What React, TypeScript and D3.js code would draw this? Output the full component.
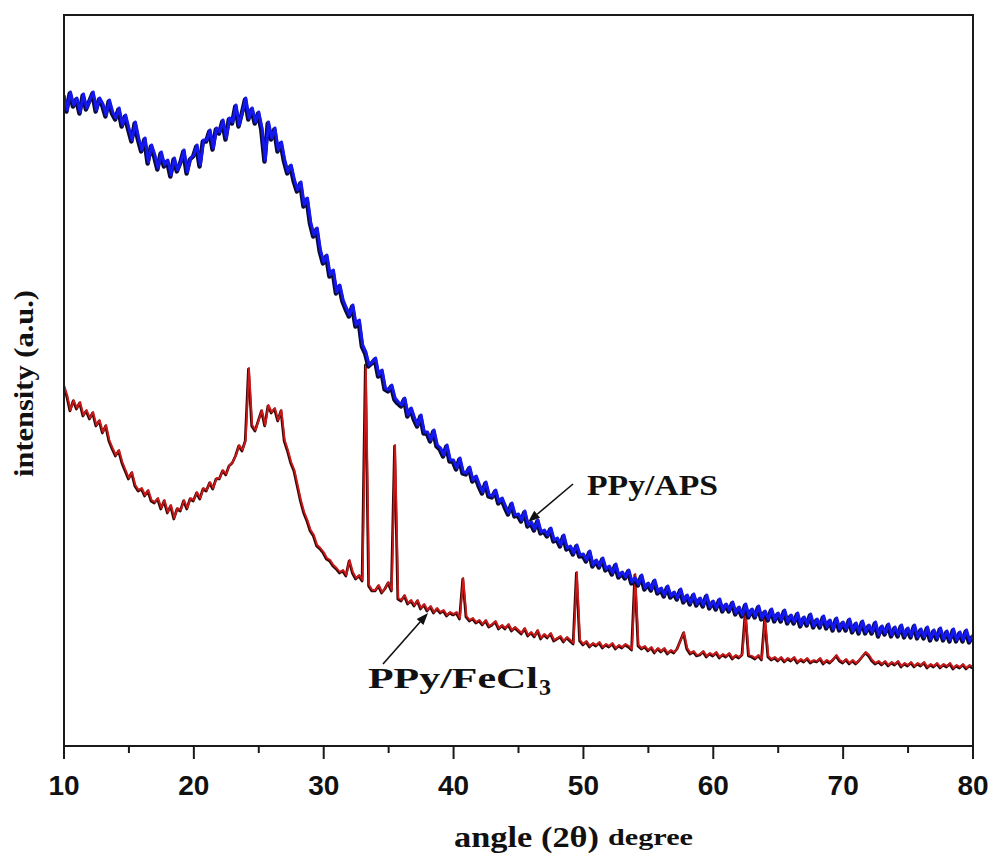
import React from "react";
import * as d3 from "d3";

// 2θ grid, 0.25° steps from 10 to 80
const angles: number[] = d3.range(0, 281).map((i) => 10 + i * 0.25);

const xMajorTicks = [10, 20, 30, 40, 50, 60, 70, 80];
const xMinorTicks = [15, 25, 35, 45, 55, 65, 75];

// intensity (a.u.) of PPy/APS, one row per degree (x.00, x.25, x.50, x.75)
const ppyAps = [
  651, 636, 654, 641,
  648, 634, 652, 638,
  646, 654, 636, 648,
  642, 631, 646, 634,
  628, 638, 621, 631,
  618, 606, 624, 608,
  596, 608, 584, 601,
  591, 578, 594, 581,
  586, 571, 588, 576,
  584, 596, 574, 588,
  591, 601, 581, 606,
  606, 616, 598, 618,
  614, 626, 608, 628,
  624, 641, 621, 634,
  648, 628, 638, 624,
  634, 618, 586, 624,
  608, 618, 596, 604,
  586, 574, 581, 566,
  556, 564, 541, 548,
  524, 511, 518, 496,
  484, 491, 471, 476,
  454, 461, 446, 438,
  431, 441, 421, 426,
  401, 394, 381, 384,
  388, 371, 376, 358,
  356, 361, 348, 344,
  341, 348, 331, 338,
  328, 321, 331, 314,
  314, 306, 316, 301,
  298, 291, 301, 286,
  286, 278, 288, 274,
  273, 279, 266, 270,
  261, 254, 264, 251,
  250, 256, 244, 248,
  240, 233, 243, 231,
  232, 226, 235, 221,
  224, 217, 226, 214,
  216, 211, 218, 206,
  208, 201, 211, 198,
  200, 193, 201, 191,
  192, 186, 195, 181,
  186, 180, 188, 177,
  180, 173, 182, 170,
  174, 169, 176, 164,
  168, 162, 171, 158,
  163, 157, 166, 154,
  158, 151, 160, 150,
  154, 148, 157, 145,
  151, 143, 152, 142,
  148, 141, 151, 139,
  145, 138, 147, 136,
  142, 136, 144, 133,
  139, 131, 142, 130,
  137, 130, 140, 128,
  135, 127, 137, 126,
  133, 126, 136, 124,
  131, 124, 133, 121,
  129, 122, 132, 120,
  127, 120, 130, 119,
  126, 117, 128, 117,
  124, 117, 127, 115,
  123, 114, 125, 114,
  121, 114, 124, 111,
  120, 113, 122, 111,
  119, 111, 121, 110,
  118, 110, 121, 109,
  117, 109, 119, 107,
  116, 108, 118, 107,
  115, 106, 117, 106,
  114, 106, 116, 105,
  111,
];

// intensity (a.u.) of PPy/FeCl3
const ppyFeCl3 = [
  361, 351, 336, 346,
  338, 344, 331, 336,
  328, 334, 321, 326,
  314, 321, 306, 298,
  291, 296, 284, 276,
  268, 274, 261, 256,
  258, 251, 256, 246,
  244, 248, 238, 246,
  234, 241, 228, 238,
  236, 246, 238, 248,
  246, 254, 248, 258,
  256, 264, 258, 268,
  268, 276, 272, 281,
  284, 291, 301, 296,
  306, 378, 321, 316,
  326, 336, 321, 341,
  334, 338, 326, 336,
  306, 296, 284, 276,
  261, 246, 234, 226,
  216, 211, 201, 198,
  194, 188, 186, 181,
  178, 174, 176, 171,
  186, 174, 168, 171,
  166, 382, 161, 156,
  156, 161, 154, 158,
  164, 156, 301, 148,
  146, 151, 143, 146,
  141, 146, 138, 142,
  136, 140, 134, 138,
  134, 136, 131, 134,
  132, 134, 128, 168,
  130, 126, 128, 124,
  126, 122, 126, 120,
  122, 125, 118, 121,
  118, 122, 116, 119,
  116, 113, 118, 111,
  114, 110, 116, 108,
  112, 109, 113, 106,
  108, 110, 105, 109,
  106, 103, 174, 106,
  102, 105, 100, 103,
  101, 104, 99, 102,
  100, 103, 98, 101,
  99, 102, 100, 97,
  172, 101, 98, 100,
  96, 99, 94, 98,
  95, 98, 93, 96,
  94, 98, 106, 114,
  98, 93, 95, 91,
  92, 95, 90, 93,
  91, 94, 89, 92,
  90, 93, 88, 91,
  89, 92, 134, 91,
  90, 88, 91, 87,
  128, 90, 87, 89,
  86, 89, 85, 88,
  86, 89, 84, 87,
  85, 88, 84, 86,
  85, 88, 83, 86,
  84, 87, 91, 86,
  84, 87, 83, 86,
  83, 86, 90, 94,
  91, 86, 83, 85,
  82, 85, 81, 84,
  82, 85, 80, 83,
  81, 84, 80, 83,
  81, 84, 79, 82,
  80, 83, 79, 82,
  80, 83, 78, 81,
  79, 82, 78, 81,
  79,
];

const W = 990;
const H = 857;
const left = 64;
const right = 973;
const top = 15;
const bottom = 746;

export default function App() {
  const x = d3.scaleLinear().domain([10, 80]).range([left, right]);
  const y = d3.scaleLinear().domain([0, 731]).range([bottom, top]);

  const line = d3
    .line<number>()
    .x((_, i) => x(angles[i]))
    .y((d) => y(d));

  const apsPath = line(ppyAps) || "";
  const fePath = line(ppyFeCl3) || "";

  const arrow = (x1: number, y1: number, x2: number, y2: number) => {
    const a = Math.atan2(y2 - y1, x2 - x1);
    const len = 12;
    const w = 4.5;
    const bx = x2 - len * Math.cos(a);
    const by = y2 - len * Math.sin(a);
    const px = -Math.sin(a) * w;
    const py = Math.cos(a) * w;
    return (
      <g>
        <line x1={x1} y1={y1} x2={bx} y2={by} stroke="#111" strokeWidth={1.6} />
        <polygon
          points={`${x2},${y2} ${bx + px},${by + py} ${bx - px},${by - py}`}
          fill="#111"
        />
      </g>
    );
  };

  const serif = "'Liberation Serif', 'Times New Roman', serif";
  const sans = "'Liberation Sans', Arial, sans-serif";

  return (
    <svg
      width={W}
      height={H}
      style={{ position: "absolute", left: 0, top: 0, background: "#fff" }}
    >
      <rect x={0} y={0} width={W} height={H} fill="#fff" />
      <defs>
        <clipPath id="plotClip">
          <rect x={left} y={top} width={right - left} height={bottom - top} />
        </clipPath>
      </defs>

      <g clipPath="url(#plotClip)">
        {/* PPy/FeCl3 */}
        <path
          d={fePath}
          fill="none"
          stroke="#3a0606"
          strokeWidth={2.7}
          strokeLinejoin="round"
          transform="translate(-0.6,1)"
        />
        <path d={fePath} fill="none" stroke="#cc1a1a" strokeWidth={1.8} strokeLinejoin="round" />
        {/* PPy/APS */}
        <path
          d={apsPath}
          fill="none"
          stroke="#0a0a35"
          strokeWidth={4.4}
          strokeLinejoin="round"
          transform="translate(-0.8,1.5)"
        />
        <path d={apsPath} fill="none" stroke="#1418ee" strokeWidth={3.0} strokeLinejoin="round" />
      </g>

      {/* frame */}
      <rect
        x={left}
        y={top}
        width={right - left}
        height={bottom - top}
        fill="none"
        stroke="#1a1a1a"
        strokeWidth={2}
      />

      {/* x ticks */}
      {xMajorTicks.map((t) => (
        <g key={"M" + t}>
          <line x1={x(t)} x2={x(t)} y1={bottom} y2={bottom + 13} stroke="#1a1a1a" strokeWidth={2} />
          <text
            x={x(t)}
            y={795}
            textAnchor="middle"
            fontFamily={sans}
            fontWeight="bold"
            fontSize={28}
            fill="#111"
          >
            {t}
          </text>
        </g>
      ))}
      {xMinorTicks.map((t) => (
        <line key={"m" + t} x1={x(t)} x2={x(t)} y1={bottom} y2={bottom + 7} stroke="#1a1a1a" strokeWidth={2} />
      ))}

      {/* axis titles */}
      <text
        x={454}
        y={847}
        fontFamily={serif}
        fontWeight="bold"
        fontSize={29}
        textLength={145}
        lengthAdjust="spacingAndGlyphs"
        fill="#111"
      >
        angle (2θ)
      </text>
      <text
        x={608}
        y={845}
        fontFamily={serif}
        fontWeight="bold"
        fontSize={23}
        textLength={85}
        lengthAdjust="spacingAndGlyphs"
        fill="#111"
      >
        degree
      </text>
      <text
        transform="translate(33,383.5) rotate(-90)"
        textAnchor="middle"
        fontFamily={serif}
        fontWeight="bold"
        fontSize={28}
        textLength={187}
        lengthAdjust="spacingAndGlyphs"
        fill="#111"
      >
        intensity (a.u.)
      </text>

      {/* annotations */}
      {arrow(573, 484, 528, 522)}
      <text
        x={587}
        y={495}
        fontFamily={serif}
        fontWeight="bold"
        fontSize={30}
        textLength={131}
        lengthAdjust="spacingAndGlyphs"
        fill="#111"
      >
        PPy/APS
      </text>

      {arrow(383, 664, 428, 613)}
      <text
        x={368}
        y={688}
        fontFamily={serif}
        fontWeight="bold"
        fontSize={30}
        textLength={170}
        lengthAdjust="spacingAndGlyphs"
        fill="#111"
      >
        PPy/FeCl
      </text>
      <text x={539} y={695} fontFamily={serif} fontWeight="bold" fontSize={24} fill="#111">
        3
      </text>
    </svg>
  );
}
